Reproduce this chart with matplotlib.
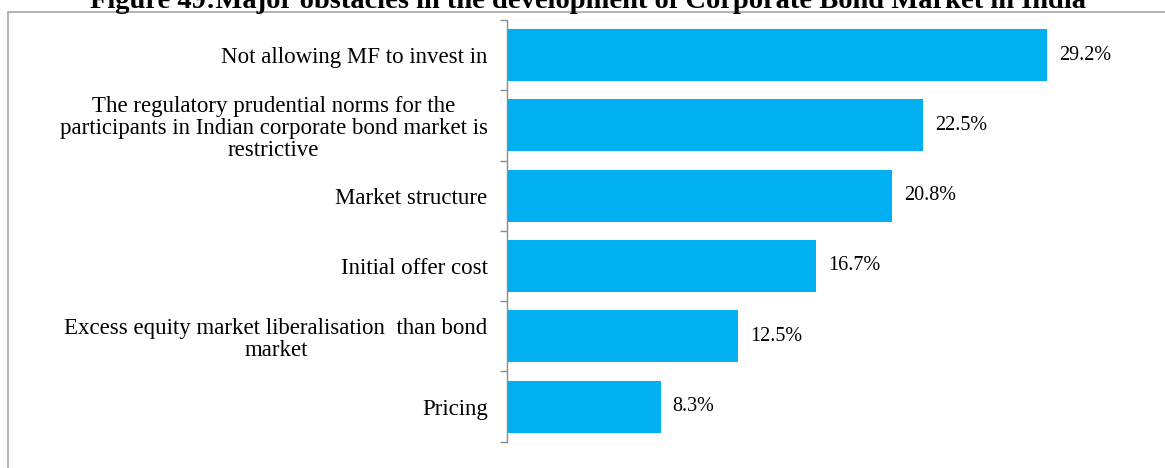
import numpy as np
import matplotlib
matplotlib.use("Agg")
from matplotlib import pyplot
from matplotlib.patches import Rectangle

# obstacles, listed top to bottom
obstacles = [
    "Not allowing MF to invest in",
    "The regulatory prudential norms for the\nparticipants in Indian corporate bond market is\nrestrictive",
    "Market structure",
    "Initial offer cost",
    "Excess equity market liberalisation  than bond\nmarket",
    "Pricing",
]
shares = [29.2, 22.5, 20.8, 16.7, 12.5, 8.3]

title = "Figure 49:Major obstacles in the development of Corporate Bond Market in India"
bar_colour = "#00B0F0"
grey = "#8C8C8C"

pyplot.rcParams["font.family"] = ["Liberation Serif", "DejaVu Serif"]

fig = pyplot.figure(figsize=(11.65, 4.68), dpi=100)
W, H = 1165.0, 468.0

# frame around the chart area
fig.patches.append(Rectangle((8.3 / W, -0.2), 2.0, 1.2 - 11.7 / H,
                             transform=fig.transFigure, fill=False,
                             edgecolor="#A6A6A6", linewidth=1.2))

fig.text(587.5 / W, 1 - 8 / H, title, ha="center", va="baseline",
         fontsize=20.5, fontweight="bold")

ax = fig.add_axes([507 / W, 1 - 441.7 / H, (1160 - 507) / W, (441.7 - 20) / H])

n = len(shares)
pos = np.arange(n)
ax.barh(pos, shares, height=0.74, color=bar_colour)
ax.set_ylim(n - 0.5, -0.5)
ax.set_xlim(0, 35.3)

for p, v in zip(pos, shares):
    ax.annotate("%.1f%%" % v, (v, p), xytext=(12, 0), textcoords="offset pixels",
                ha="left", va="center", fontsize=14.5)

ax.set_yticks(pos)
ax.set_yticklabels(obstacles, fontsize=16.5, multialignment="center",
                   linespacing=1.08)
ax.tick_params(axis="y", which="major", length=0, pad=14)
ax.set_yticks(np.arange(n + 1) - 0.5, minor=True)
ax.tick_params(axis="y", which="minor", length=5, width=1, color=grey,
               direction="out")
ax.set_xticks([])

for side in ["top", "right", "bottom"]:
    ax.spines[side].set_visible(False)
ax.spines["left"].set_color(grey)
ax.spines["left"].set_linewidth(1)

fig.savefig("out.png", dpi=100)
